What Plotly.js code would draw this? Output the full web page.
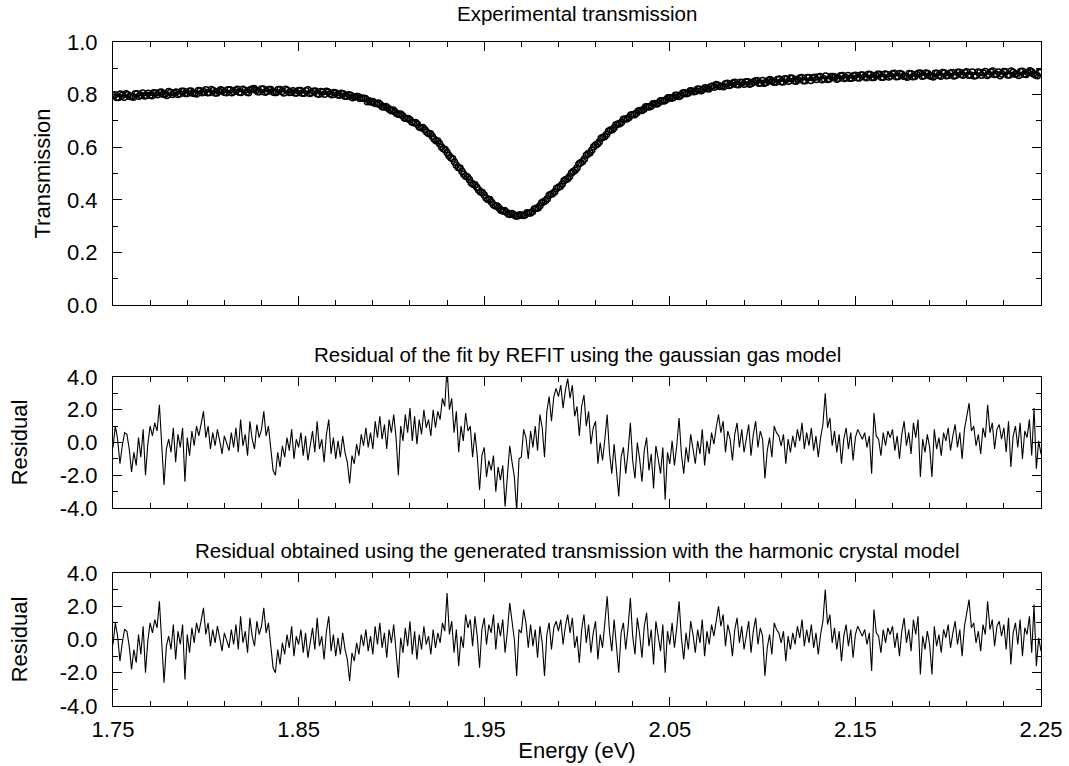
<!DOCTYPE html>
<html>
<head>
<meta charset="utf-8">
<script src="https://cdn.plot.ly/plotly-3.0.1.min.js"></script>
<style>html,body{margin:0;padding:0;background:#fff;}#chart{width:1069px;height:766px;}</style>
</head>
<body>
<div id="chart"></div>
<script>
// ---- data ----
const E_START = 1.75;
const T_STEP = 0.001;      // energy step of the transmission points (eV)
const R_STEP = 0.00125;    // energy step of the residual points (eV)

const transmission = [
0.797,0.799,0.789,0.789,0.802,0.798,0.790,0.803,0.799,0.793,0.793,0.790,0.803,0.803,0.794,0.798,0.806,0.795,0.797,0.805,
0.798,0.796,0.807,0.805,0.799,0.808,0.810,0.801,0.801,0.797,0.812,0.808,0.800,0.806,0.810,0.800,0.803,0.813,0.813,0.804,
0.804,0.813,0.814,0.805,0.805,0.802,0.816,0.815,0.807,0.811,0.818,0.807,0.808,0.819,0.816,0.806,0.806,0.813,0.818,0.816,
0.809,0.807,0.818,0.818,0.807,0.811,0.817,0.820,0.809,0.808,0.820,0.817,0.810,0.807,0.818,0.821,0.823,0.817,0.811,0.811,
0.821,0.821,0.809,0.812,0.819,0.819,0.811,0.808,0.808,0.819,0.819,0.812,0.806,0.820,0.817,0.808,0.809,0.815,0.806,0.806,
0.816,0.816,0.805,0.805,0.815,0.818,0.804,0.807,0.813,0.814,0.803,0.801,0.812,0.810,0.801,0.813,0.810,0.803,0.799,0.808,
0.806,0.799,0.798,0.805,0.803,0.794,0.794,0.799,0.798,0.788,0.791,0.793,0.793,0.785,0.787,0.786,0.785,0.773,0.777,0.772,
0.774,0.767,0.765,0.768,0.762,0.754,0.753,0.755,0.749,0.743,0.739,0.741,0.734,0.727,0.725,0.726,0.720,0.711,0.709,0.709,
0.704,0.696,0.693,0.694,0.687,0.677,0.674,0.675,0.666,0.658,0.652,0.651,0.642,0.631,0.625,0.624,0.613,0.601,0.594,0.590,
0.580,0.568,0.560,0.556,0.544,0.531,0.523,0.521,0.509,0.497,0.490,0.487,0.477,0.465,0.459,0.457,0.448,0.437,0.430,0.428,
0.418,0.407,0.401,0.401,0.391,0.381,0.376,0.376,0.369,0.360,0.357,0.359,0.353,0.346,0.344,0.348,0.343,0.338,0.338,0.343,
0.342,0.340,0.342,0.351,0.350,0.350,0.355,0.365,0.368,0.369,0.377,0.389,0.393,0.396,0.404,0.417,0.421,0.424,0.431,0.443,
0.448,0.451,0.459,0.472,0.477,0.480,0.489,0.502,0.508,0.512,0.521,0.536,0.541,0.546,0.555,0.569,0.575,0.579,0.589,0.602,
0.608,0.612,0.620,0.634,0.638,0.641,0.649,0.661,0.665,0.666,0.674,0.685,0.688,0.689,0.695,0.706,0.707,0.708,0.713,0.722,
0.724,0.723,0.729,0.738,0.740,0.740,0.744,0.754,0.754,0.753,0.757,0.765,0.766,0.764,0.769,0.777,0.777,0.776,0.780,0.788,
0.788,0.786,0.789,0.798,0.798,0.793,0.798,0.806,0.807,0.803,0.806,0.815,0.814,0.811,0.813,0.821,0.820,0.815,0.820,0.826,
0.823,0.821,0.830,0.833,0.828,0.838,0.836,0.831,0.832,0.830,0.841,0.843,0.835,0.837,0.844,0.847,0.838,0.837,0.847,0.846,
0.839,0.849,0.849,0.839,0.842,0.848,0.852,0.854,0.843,0.844,0.854,0.843,0.846,0.854,0.857,0.852,0.847,0.847,0.857,0.859,
0.849,0.848,0.860,0.858,0.851,0.863,0.862,0.853,0.851,0.856,0.863,0.865,0.853,0.853,0.865,0.865,0.854,0.864,0.866,0.857,
0.867,0.869,0.856,0.860,0.871,0.857,0.859,0.869,0.869,0.867,0.858,0.861,0.872,0.873,0.861,0.864,0.873,0.862,0.862,0.872,
0.874,0.864,0.863,0.875,0.875,0.867,0.864,0.877,0.876,0.865,0.865,0.873,0.877,0.877,0.866,0.866,0.878,0.876,0.867,0.871,
0.879,0.881,0.868,0.869,0.880,0.877,0.870,0.869,0.866,0.880,0.879,0.868,0.869,0.877,0.881,0.882,0.870,0.872,0.882,0.880,
0.872,0.870,0.867,0.881,0.881,0.874,0.870,0.884,0.882,0.872,0.873,0.881,0.884,0.871,0.873,0.885,0.885,0.876,0.874,0.884,
0.887,0.874,0.875,0.886,0.871,0.873,0.886,0.884,0.874,0.882,0.888,0.873,0.876,0.886,0.890,0.876,0.877,0.886,0.872,0.878,
0.888,0.887,0.875,0.875,0.890,0.885,0.877,0.878,0.873,0.888,0.889,0.877,0.876,0.884,0.891,0.887,0.878,0.875,0.872,0.885,
0.886
];

// residual of the fit with the gaussian gas model (middle panel)
const residualGas = [
-0.3,1.0,0.2,-1.3,-0.2,0.6,0.5,-0.4,-1.8,-0.6,-1.4,0.3,-0.9,0.8,-2.0,-0.1,1.0,0.4,1.2,0.7,
2.3,-0.5,-2.6,-0.4,0.2,-0.6,0.9,-1.2,0.5,-0.3,0.9,-2.4,0.3,-0.8,0.7,-0.2,1.0,0.4,1.2,1.9,
0.3,1.0,-0.4,0.6,-0.2,0.8,0.1,-0.7,0.4,0.0,-0.5,0.6,-0.3,0.9,-0.6,1.4,-0.2,0.5,-0.8,1.3,
0.2,-0.4,1.1,0.3,0.8,1.9,0.4,1.0,-0.3,-1.7,-2.0,-0.6,-1.5,-0.2,-0.9,0.3,-0.5,0.8,-1.0,0.2,
-0.3,0.6,-0.8,0.4,-1.1,-0.2,0.7,-0.6,1.3,-0.4,0.2,-1.2,0.5,1.4,-0.7,0.3,-1.0,0.1,-0.9,0.4,
-0.6,-1.2,-2.5,-0.8,-1.3,-0.1,-0.8,0.5,-0.2,0.9,-0.3,0.6,-0.4,1.3,0.3,1.6,0.2,1.1,-0.4,1.4,
0.6,1.7,0.3,-2.0,1.0,0.1,1.7,0.6,2.1,0.1,1.6,-0.1,1.4,0.5,2.0,0.9,1.4,0.4,2.0,0.9,
1.9,1.4,2.7,2.2,4.6,2.0,2.7,0.6,1.9,-0.6,1.0,0.1,1.8,0.7,1.0,-0.9,0.6,-0.8,-2.9,-0.8,
-0.3,-2.1,-1.1,-1.7,-0.8,-3.0,-1.5,-2.3,-1.4,-3.9,-2.0,-0.2,-1.2,-2.1,-4.2,-1.0,-0.9,0.8,0.3,-1.0,
0.7,-0.3,1.0,-0.5,1.7,0.9,-0.9,1.9,2.8,1.3,2.8,3.3,2.8,3.5,2.1,3.2,3.9,2.7,3.5,1.6,
2.2,0.4,2.2,2.9,1.0,1.9,-0.1,0.9,1.3,-1.3,0.0,-1.1,0.2,1.7,-0.6,-1.9,-0.1,-1.6,-3.3,-0.9,
-0.3,-1.9,-0.6,1.2,-1.1,-2.2,0.0,-1.0,-2.4,-0.5,0.3,-1.7,-0.7,-2.8,-0.2,-1.0,-1.9,-0.3,-3.5,-0.6,
-1.3,0.1,-1.4,-0.2,1.5,-0.7,-1.9,-0.3,-1.2,0.5,-0.3,-1.3,0.1,-0.7,0.8,-1.4,0.1,-0.7,0.6,-0.1,
0.9,1.7,0.6,1.3,-0.6,0.7,0.2,-1.1,0.5,1.2,-0.3,0.8,-0.6,0.4,1.1,-0.8,0.5,1.3,-0.3,0.7,
0.2,-2.2,-0.5,0.3,-0.9,1.0,0.6,0.4,-0.2,0.5,-1.3,0.2,-0.6,0.4,-0.3,0.8,0.1,1.2,-0.4,0.6,
-0.2,0.9,-0.5,0.4,-0.9,0.3,1.1,3.0,0.9,1.5,-0.2,0.7,-0.6,0.5,-1.3,0.2,0.9,-0.4,0.6,-1.1,
0.3,0.8,0.5,0.2,0.6,-0.3,0.4,-1.9,1.8,0.4,0.2,-0.8,0.6,-0.2,0.7,0.3,0.8,-0.5,0.4,-1.0,
0.5,1.3,-0.2,0.6,-0.7,1.2,0.3,1.4,-2.1,0.2,-0.6,0.5,-0.3,-2.1,0.8,-0.4,0.3,-0.8,0.6,0.1,
0.9,-0.5,0.4,1.1,-0.3,0.6,-1.0,0.8,1.6,2.4,0.7,1.0,-0.2,0.5,-0.7,0.9,0.3,2.3,0.6,1.2,
-0.4,0.8,1.1,0.2,0.9,-0.6,1.3,-1.5,0.4,1.0,-0.3,1.2,-1.0,0.7,0.3,1.4,-0.8,2.1,-1.6,0.1,
-0.7
];

// residual with the generated transmission, harmonic crystal model (bottom panel)
const residualCrystal = [
-0.3,1.0,0.2,-1.3,-0.2,0.6,0.5,-0.4,-1.8,-0.6,-1.4,0.3,-0.9,0.8,-2.0,-0.1,1.0,0.4,1.2,0.7,
2.3,-0.5,-2.6,-0.4,0.2,-0.6,0.9,-1.2,0.5,-0.3,0.9,-2.4,0.3,-0.8,0.7,-0.2,1.0,0.4,1.2,1.9,
0.3,1.0,-0.4,0.6,-0.2,0.8,0.1,-0.7,0.4,0.0,-0.5,0.6,-0.3,0.9,-0.6,1.4,-0.2,0.5,-0.8,1.3,
0.2,-0.4,1.1,0.3,0.8,1.9,0.4,1.0,-0.3,-1.7,-2.0,-0.6,-1.5,-0.2,-0.9,0.3,-0.5,0.8,-1.0,0.2,
-0.3,0.6,-0.8,0.4,-1.1,-0.2,0.7,-0.6,1.3,-0.4,0.2,-1.2,0.5,1.4,-0.7,0.3,-1.0,0.1,-0.9,0.4,
-0.6,-1.2,-2.5,-0.8,-1.3,-0.2,-0.9,0.3,-0.4,0.6,-0.7,0.2,-0.9,0.8,-0.3,1.0,-0.5,0.4,-1.1,0.6,
-0.2,0.9,-0.6,-2.3,0.1,-0.8,0.7,-0.4,1.1,-0.9,0.5,-1.2,0.3,-0.6,0.8,-0.3,0.2,-0.9,0.6,-0.5,
0.4,-0.2,1.0,0.5,2.8,0.3,1.1,-0.8,0.6,-1.6,0.2,-0.5,1.5,0.7,1.2,-0.4,1.4,0.2,-1.7,0.6,
1.3,-0.3,0.9,0.4,1.5,-0.6,1.0,0.2,1.2,-0.8,0.5,2.2,1.1,0.0,-2.2,0.6,0.4,1.8,1.0,-0.5,
0.9,-0.4,0.6,-1.1,0.8,-0.2,-2.2,0.3,1.0,-0.6,0.7,1.1,0.5,1.2,-0.3,0.8,1.5,0.4,1.3,-0.5,
0.2,-1.4,0.6,1.5,-0.2,0.9,-0.8,0.4,1.1,-1.2,0.3,-0.5,1.0,2.6,0.5,-0.7,1.2,-0.3,-2.0,0.4,
1.0,-0.6,0.7,2.5,0.2,-0.9,1.3,0.3,-1.1,0.8,1.6,-0.4,0.6,-1.5,1.1,0.2,-0.7,0.9,-2.0,0.5,
-0.3,1.0,-0.5,0.7,2.3,0.1,-1.2,0.4,-0.6,1.1,0.3,-0.8,0.6,-0.2,1.2,-1.0,0.5,-0.3,0.9,0.2,
1.2,2.0,0.8,1.5,-0.4,0.9,0.3,-1.0,0.6,1.3,-0.2,0.8,-0.6,0.4,1.1,-0.8,0.5,1.3,-0.3,0.7,
0.2,-2.2,-0.5,0.3,-0.9,1.0,0.6,0.4,-0.2,0.5,-1.3,0.2,-0.6,0.4,-0.3,0.8,0.1,1.2,-0.4,0.6,
-0.2,0.9,-0.5,0.4,-0.9,0.3,1.1,3.0,0.9,1.5,-0.2,0.7,-0.6,0.5,-1.3,0.2,0.9,-0.4,0.6,-1.1,
0.3,0.8,0.5,0.2,0.6,-0.3,0.4,-1.9,1.8,0.4,0.2,-0.8,0.6,-0.2,0.7,0.3,0.8,-0.5,0.4,-1.0,
0.5,1.3,-0.2,0.6,-0.7,1.2,0.3,1.4,-2.1,0.2,-0.6,0.5,-0.3,-2.1,0.8,-0.4,0.3,-0.8,0.6,0.1,
0.9,-0.5,0.4,1.1,-0.3,0.6,-1.0,0.8,1.6,2.4,0.7,1.0,-0.2,0.5,-0.7,0.9,0.3,2.3,0.6,1.2,
-0.4,0.8,1.1,0.2,0.9,-0.6,1.3,-1.5,0.4,1.0,-0.3,1.2,-1.0,0.7,0.3,1.4,-0.8,2.1,-1.6,0.1,
-0.7
];

const xTickVals = [1.75, 1.85, 1.95, 2.05, 2.15, 2.25];
const xTickText = ["1.75", "1.85", "1.95", "2.05", "2.15", "2.25"];
const tTickVals = [0, 0.2, 0.4, 0.6, 0.8, 1.0];
const tTickText = ["0.0", "0.2", "0.4", "0.6", "0.8", "1.0"];
const rTickVals = [-4, -2, 0, 2, 4];
const rTickText = ["-4.0", "-2.0", "0.0", "2.0", "4.0"];

const titles = [
  "Experimental transmission",
  "Residual of the fit by REFIT using the gaussian gas model",
  "Residual obtained using the generated transmission with the harmonic crystal model"
];

// ---- energy grids ----
function grid(n, step) {
  const g = [];
  for (let i = 0; i < n; i++) g.push(+(E_START + i * step).toFixed(5));
  return g;
}
const energyT = grid(transmission.length, T_STEP);
const energyR = grid(residualGas.length, R_STEP);

const FONT = "Liberation Sans, Arial, Helvetica, sans-serif";

const traces = [
  { x: energyT, y: transmission, xaxis: "x", yaxis: "y", type: "scatter", mode: "markers",
    marker: { symbol: "circle-open", size: 6, color: "#000", line: { width: 1.5, color: "#000" } },
    hoverinfo: "x+y" },
  { x: energyR, y: residualGas, xaxis: "x2", yaxis: "y2", type: "scatter", mode: "lines",
    line: { color: "#000", width: 1.1 } },
  { x: energyR, y: residualCrystal, xaxis: "x3", yaxis: "y3", type: "scatter", mode: "lines",
    line: { color: "#000", width: 1.1 } }
];

function xAxis(anchor, labels) {
  return {
    anchor: anchor, domain: [0, 1], range: [1.75, 2.25], autorange: false,
    showline: true, linecolor: "#000", linewidth: 1, mirror: "ticks",
    showgrid: false, zeroline: false,
    ticks: "inside", ticklen: 9, tickwidth: 1, tickcolor: "#000",
    tickmode: "array", tickvals: xTickVals, ticktext: xTickText,
    showticklabels: labels, ticklabelstandoff: 4,
    tickfont: { family: FONT, size: 22, color: "#000" },
    minor: { ticks: "inside", ticklen: 5, tickwidth: 1, tickcolor: "#000",
             tickmode: "linear", tick0: 1.75, dtick: 0.02, showgrid: false }
  };
}
function yAxis(anchor, domain, range, vals, text, minorStep, title, standoff) {
  return {
    domain: domain, range: range, autorange: false, anchor: anchor,
    showline: true, linecolor: "#000", linewidth: 1, mirror: "ticks",
    showgrid: false, zeroline: false,
    ticks: "inside", ticklen: 9, tickwidth: 1, tickcolor: "#000",
    tickmode: "array", tickvals: vals, ticktext: text, ticklabelstandoff: 10,
    tickfont: { family: FONT, size: 22, color: "#000" },
    minor: { ticks: "inside", ticklen: 5, tickwidth: 1, tickcolor: "#000",
             tickmode: "linear", tick0: range[0], dtick: minorStep, showgrid: false },
    title: { text: title, standoff: standoff, font: { family: FONT, size: 22, color: "#000" } }
  };
}

const xa3 = xAxis("y3", true);
xa3.title = { text: "Energy (eV)", standoff: 1, font: { family: FONT, size: 22, color: "#000" } };

const layout = {
  width: 1069, height: 766,
  margin: { l: 113, r: 28, t: 42, b: 60, pad: 0 },
  paper_bgcolor: "#fff", plot_bgcolor: "#fff",
  showlegend: false,
  font: { family: FONT, color: "#000", size: 22 },
  xaxis: xAxis("y", false),
  xaxis2: xAxis("y2", false),
  xaxis3: xa3,
  yaxis: yAxis("x", [0.6039, 1], [0, 1], tTickVals, tTickText, 0.1, "Transmission", 10),
  yaxis2: yAxis("x2", [0.2982, 0.4955], [-4, 4], rTickVals, rTickText, 1, "Residual", 25),
  yaxis3: yAxis("x3", [0, 0.2003], [-4, 4], rTickVals, rTickText, 1, "Residual", 25),
  annotations: [
    { text: titles[0], xref: "paper", yref: "paper", x: 0.5, y: 1.043, xanchor: "center", yanchor: "middle",
      showarrow: false, font: { family: FONT, size: 20.5, color: "#000" } },
    { text: titles[1], xref: "paper", yref: "paper", x: 0.5, y: 0.530, xanchor: "center", yanchor: "middle",
      showarrow: false, font: { family: FONT, size: 20.5, color: "#000" } },
    { text: titles[2], xref: "paper", yref: "paper", x: 0.5, y: 0.2342, xanchor: "center", yanchor: "middle",
      showarrow: false, font: { family: FONT, size: 20.5, color: "#000" } }
  ]
};

Plotly.newPlot("chart", traces, layout, { displayModeBar: false, staticPlot: true });
</script>
</body>
</html>
